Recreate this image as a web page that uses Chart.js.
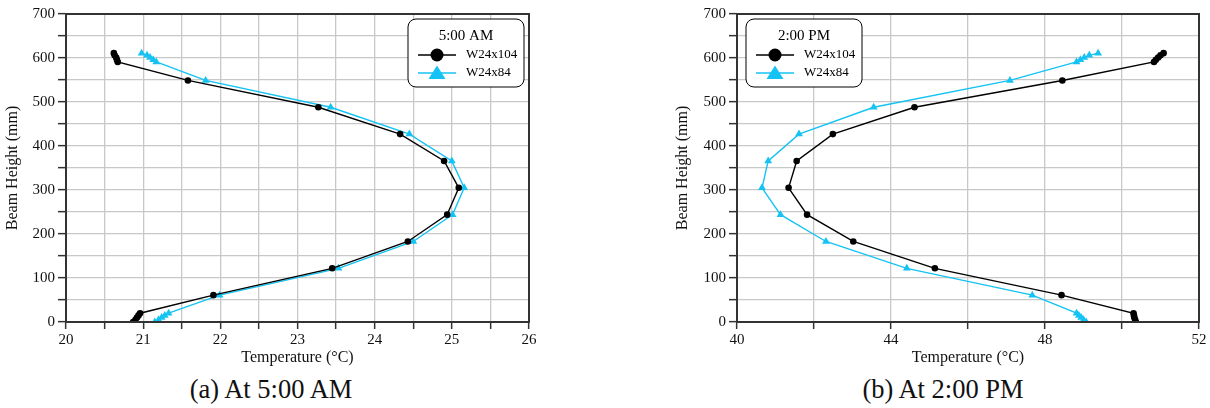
<!DOCTYPE html>
<html lang="en">
<head>
<meta charset="UTF-8">
<title>Beam temperature profiles</title>
<script src="https://cdn.jsdelivr.net/npm/chart.js@4.4.0/dist/chart.umd.min.js"></script>
<style>
  * { margin:0; padding:0; box-sizing:border-box; }
  body { width:1210px; height:408px; background:#fff; position:relative; overflow:hidden; font-family:'Liberation Serif','Times New Roman',serif; color:#111; }
  .panel { position:absolute; top:0; height:370px; }
  .panel canvas { display:block; }
  .caption { position:absolute; top:374px; font-size:26.5px; line-height:30px; white-space:nowrap; transform:translateX(-50%); }
</style>
</head>
<body>
<div class="panel" style="left:0;width:545px;"><canvas id="chartAM" width="545" height="370"></canvas></div>
<div class="panel" style="left:670px;width:540px;"><canvas id="chartPM" width="540" height="370"></canvas></div>
<div class="caption" style="left:271px;">(a) At 5:00 AM</div>
<div class="caption" style="left:943px;">(b) At 2:00 PM</div>

<script>
// measurement heights through the beam depth (mm)
const heights = [0, 5, 10, 15, 20, 61, 122, 183, 244, 305, 366, 427, 488, 549, 591, 596, 601, 606, 611];

// temperatures at 5:00 AM (°C)
const amW104 = [20.87, 20.90, 20.92, 20.94, 20.96, 21.91, 23.45, 24.43, 24.94, 25.09, 24.90, 24.33, 23.27, 21.58, 20.67, 20.66, 20.65, 20.63, 20.62];
const amW84  = [21.15, 21.20, 21.24, 21.28, 21.33, 21.99, 23.53, 24.50, 25.01, 25.16, 25.00, 24.45, 23.43, 21.81, 21.17, 21.13, 21.09, 21.05, 20.98];

// temperatures at 2:00 PM (°C)
const pmW104 = [50.36, 50.34, 50.32, 50.31, 50.30, 48.43, 45.14, 43.02, 41.82, 41.34, 41.55, 42.49, 44.61, 48.45, 50.83, 50.88, 50.94, 51.00, 51.08];
const pmW84  = [49.07, 49.00, 48.94, 48.88, 48.82, 47.67, 44.41, 42.31, 41.13, 40.65, 40.81, 41.61, 43.55, 47.09, 48.82, 48.92, 49.02, 49.15, 49.38];

const sections = ['W24x104', 'W24x84'];
const BLACK = '#000000';
const CYAN = '#14c3f3';
const FONT = 'Liberation Serif';

Chart.defaults.font.family = FONT;
Chart.defaults.font.size = 15;
Chart.defaults.color = '#111';

const pairs = (temps) => temps.map((t, i) => ({ x: t, y: heights[i] }));

// frame round the plot area + boxed legend inside it
const frameLegend = {
  id: 'frameLegend',
  afterDraw(chart, args, o) {
    const ctx = chart.ctx, a = chart.chartArea;
    ctx.save();
    ctx.strokeStyle = '#333';
    ctx.lineWidth = 2;
    ctx.strokeRect(a.left, a.top, a.right - a.left, a.bottom - a.top);

    const w = 116, h = 68;
    const x = o.align === 'right' ? a.right - 5 - w : a.left + 9;
    const y = a.top + 5;
    ctx.beginPath();
    ctx.roundRect(x, y, w, h, 8);
    ctx.fillStyle = '#fff';
    ctx.fill();
    ctx.lineWidth = 1;
    ctx.strokeStyle = '#000';
    ctx.stroke();

    ctx.fillStyle = '#000';
    ctx.font = '15px ' + FONT;
    ctx.textAlign = 'center';
    ctx.textBaseline = 'middle';
    ctx.fillText(o.title, x + w / 2, y + 17);

    ctx.font = '13px ' + FONT;
    ctx.textAlign = 'left';
    const rows = [
      { label: sections[0], color: BLACK, shape: 'circle', cy: y + 36 },
      { label: sections[1], color: CYAN, shape: 'triangle', cy: y + 54 }
    ];
    rows.forEach(r => {
      const x0 = x + 10, x1 = x + 48, mx = (x0 + x1) / 2;
      ctx.strokeStyle = r.color;
      ctx.lineWidth = 1.5;
      ctx.beginPath(); ctx.moveTo(x0, r.cy); ctx.lineTo(x1, r.cy); ctx.stroke();
      ctx.fillStyle = r.color;
      ctx.beginPath();
      if (r.shape === 'circle') {
        ctx.arc(mx, r.cy, 6.5, 0, Math.PI * 2);
      } else {
        ctx.moveTo(mx, r.cy - 7.5);
        ctx.lineTo(mx + 8.5, r.cy + 6);
        ctx.lineTo(mx - 8.5, r.cy + 6);
        ctx.closePath();
      }
      ctx.fill();
      ctx.fillStyle = '#000';
      ctx.fillText(r.label, x + 58, r.cy);
    });
    ctx.restore();
  }
};

function makeChart(id, w104, w84, xr, labelEvery, legendTitle, align, rightPad) {
  return new Chart(document.getElementById(id), {
    type: 'scatter',
    data: {
      datasets: [
        { label: sections[0], data: pairs(w104), showLine: true, borderColor: BLACK, backgroundColor: BLACK,
          borderWidth: 1.4, pointStyle: 'circle', pointRadius: 3.3, pointBorderWidth: 0 },
        { label: sections[1], data: pairs(w84), showLine: true, borderColor: CYAN, backgroundColor: CYAN,
          borderWidth: 1.4, pointStyle: 'triangle', pointRadius: 4.5, pointBorderWidth: 0 }
      ]
    },
    options: {
      responsive: false,
      animation: false,
      layout: { padding: { top: 14, right: rightPad, left: 0, bottom: 0 } },
      plugins: {
        legend: { display: false },
        tooltip: { enabled: false },
        frameLegend: { title: legendTitle, align: align }
      },
      scales: {
        x: {
          type: 'linear', min: xr.min, max: xr.max,
          afterFit: s => { s.height = 48; },
          grid: { color: '#c8c8c8', lineWidth: 1.3, tickColor: '#333', tickLength: 7, tickWidth: 1.5 },
          border: { color: '#333', width: 2 },
          ticks: { stepSize: xr.step, autoSkip: false, maxRotation: 0, padding: 2, font: { size: 15 },
            callback: v => (Math.abs(v / labelEvery - Math.round(v / labelEvery)) < 1e-6 ? v : '') },
          title: { display: true, text: 'Temperature (°C)', font: { size: 16 }, padding: { top: 0, bottom: 3 } }
        },
        y: {
          type: 'linear', min: 0, max: 700,
          afterFit: s => { s.width = xr.yw; },
          grid: { color: '#c8c8c8', lineWidth: 1.3, tickColor: '#333', tickLength: 8, tickWidth: 1.5 },
          border: { color: '#333', width: 2 },
          ticks: { stepSize: 50, autoSkip: false, padding: 3, font: { size: 15 },
            callback: v => (v % 100 === 0 ? v : '') },
          title: { display: true, text: 'Beam Height (mm)', font: { size: 16 }, padding: { top: 3, bottom: 0 } }
        }
      }
    },
    plugins: [frameLegend]
  });
}

makeChart('chartAM', amW104, amW84, { min: 20, max: 26, step: 0.5, yw: 66 }, 1, '5:00 AM', 'right', 16);
makeChart('chartPM', pmW104, pmW84, { min: 40, max: 52, step: 2, yw: 67 }, 4, '2:00 PM', 'left', 11);
</script>
</body>
</html>
